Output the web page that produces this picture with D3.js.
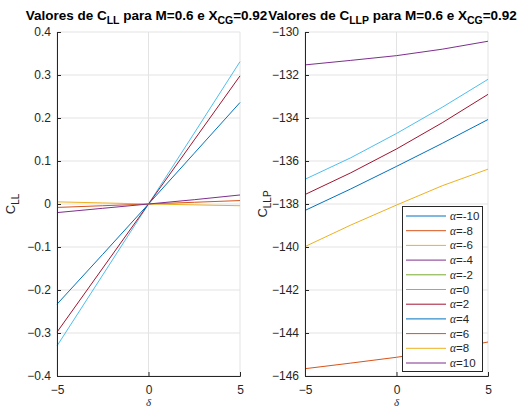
<!DOCTYPE html>
<html>
<head>
<meta charset="utf-8">
<script src="https://cdn.jsdelivr.net/npm/d3@7"></script>
<style>
  body { margin: 0; background: #fff; }
  svg { display: block; font-family: "Liberation Sans", Arial, sans-serif; }
</style>
</head>
<body>
<div id="chart"></div>
<script>
// data
const delta = [-5, -2.5, 0, 2.5, 5];
const alphas = [-10, -8, -6, -4, -2, 0, 2, 4, 6, 8, 10];
// series -10..-2 never show up in either panel
const cll = {
  "0":  [-0.330, -0.165, 0, 0.165, 0.331],
  "2":  [-0.298, -0.149, 0, 0.149, 0.298],
  "4":  [-0.233, -0.117, 0, 0.118, 0.236],
  "6":  [-0.008, -0.004, 0, 0.004, 0.008],
  "8":  [0.005, 0.0025, 0, -0.002, -0.004],
  "10": [-0.020, -0.010, 0, 0.010, 0.021]
};
const cllp = {
  "0":  [-136.85, -135.85, -134.72, -133.50, -132.20],
  "2":  [-137.56, -136.55, -135.44, -134.22, -132.90],
  "4":  [-138.30, -137.30, -136.25, -135.18, -134.07],
  "6":  [-145.66, -145.40, -145.13, -144.80, -144.42],
  "8":  [-139.98, -138.98, -138.05, -137.15, -136.38],
  "10": [-131.53, -131.32, -131.10, -130.80, -130.43]
};
const colors = ["#0072BD", "#D95319", "#EDB120", "#7E2F8E", "#77AC30", "#4DBEEE",
  "#A2142F", "#0072BD", "#D95319", "#EDB120", "#7E2F8E"];
const xTicks = [-5, 0, 5];
const yTicksL = [-0.4, -0.3, -0.2, -0.1, 0, 0.1, 0.2, 0.3, 0.4];
const yTicksR = [-146, -144, -142, -140, -138, -136, -134, -132, -130];

const svg = d3.select("#chart").append("svg")
  .attr("width", 521)
  .attr("height", 409);

function panel(opts) {
  const x = d3.scaleLinear().domain([-5, 5]).range([opts.x0, opts.x1]);
  const y = d3.scaleLinear().domain(opts.yDomain).range([376, 32]);
  const g = svg.append("g");

  // grid
  g.selectAll(".gx").data(xTicks).join("line")
    .attr("x1", d => x(d)).attr("x2", d => x(d))
    .attr("y1", 32).attr("y2", 376)
    .attr("stroke", "#e3e3e3");
  g.selectAll(".gy").data(opts.yTicks).join("line")
    .attr("x1", opts.x0).attr("x2", opts.x1)
    .attr("y1", d => y(d)).attr("y2", d => y(d))
    .attr("stroke", "#e3e3e3");

  // lines
  const line = d3.line().x((d, i) => x(delta[i])).y(d => y(d));
  alphas.forEach((a, i) => {
    const vals = opts.data[String(a)];
    if (!vals) return;
    g.append("path")
      .datum(vals)
      .attr("fill", "none")
      .attr("stroke", colors[i])
      .attr("stroke-width", 1)
      .attr("d", line);
  });

  // axes
  const ax = g.append("g")
    .attr("transform", `translate(0,376)`)
    .call(d3.axisBottom(x).tickValues(xTicks).tickSize(-4).tickPadding(9).tickFormat(d3.format("d")));
  const ay = g.append("g")
    .attr("transform", `translate(${opts.x0},0)`)
    .call(d3.axisLeft(y).tickValues(opts.yTicks).tickSize(-4).tickPadding(6).tickFormat(opts.fmt));
  [ax, ay].forEach(a => {
    a.select(".domain").attr("stroke", "#262626").attr("stroke-width", 1);
    a.selectAll(".tick line").attr("stroke", "#262626");
    a.selectAll("text").attr("fill", "#262626").style("font-size", "12px")
      .style("font-family", "Liberation Sans, Arial, sans-serif");
  });

  // title
  const cx = (opts.x0 + opts.x1) / 2;
  const t = svg.append("text")
    .attr("x", cx + opts.tdx).attr("y", 20)
    .attr("text-anchor", "middle")
    .style("font-size", "13.5px").style("font-weight", "bold")
    .attr("fill", "#000");
  t.append("tspan").text("Valores de C");
  t.append("tspan").attr("dy", 4).style("font-size", "10.5px").text(opts.sub);
  t.append("tspan").attr("dy", -4).text(" para M=0.6 e X");
  t.append("tspan").attr("dy", 4).style("font-size", "10.5px").text("CG");
  t.append("tspan").attr("dy", -4).text("=0.92");

  // y label
  const yl = svg.append("text")
    .attr("transform", `translate(${opts.ylx},204) rotate(-90)`)
    .attr("text-anchor", "middle")
    .attr("fill", "#262626")
    .style("font-size", "13px");
  yl.append("tspan").text("C");
  yl.append("tspan").attr("dy", 4).style("font-size", "10px").text(opts.sub);

  // x label
  svg.append("text")
    .attr("x", cx).attr("y", 406)
    .attr("text-anchor", "middle")
    .attr("fill", "#262626")
    .style("font-family", "Liberation Serif, serif")
    .style("font-style", "italic")
    .style("font-size", "11px")
    .text("δ");
  return { x, y };
}

panel({ x0: 57, x1: 240, yDomain: [-0.4, 0.4], yTicks: yTicksL, data: cll,
  fmt: d => d === 0 ? "0" : d3.format(".1f")(d), sub: "LL", ylx: 15, tdx: -2 });
panel({ x0: 305, x1: 488, yDomain: [-146, -130], yTicks: yTicksR, data: cllp,
  fmt: d3.format("d"), sub: "LLP", ylx: 267, tdx: -4 });

// legend
const lg = svg.append("g");
lg.append("rect")
  .attr("x", 402.5).attr("y", 206.5)
  .attr("width", 80).attr("height", 165)
  .attr("fill", "#fff")
  .attr("stroke", "#262626");
alphas.forEach((a, i) => {
  const yy = 216 + i * 14.7;
  lg.append("line")
    .attr("x1", 406).attr("x2", 446)
    .attr("y1", yy).attr("y2", yy)
    .attr("stroke", colors[i]);
  const t = lg.append("text")
    .attr("x", 450).attr("y", yy + 4)
    .attr("fill", "#262626")
    .style("font-size", "11.5px");
  t.append("tspan").style("font-family", "Liberation Serif, serif").style("font-style", "italic").text("α");
  t.append("tspan").text("=" + a);
});
</script>
</body>
</html>
